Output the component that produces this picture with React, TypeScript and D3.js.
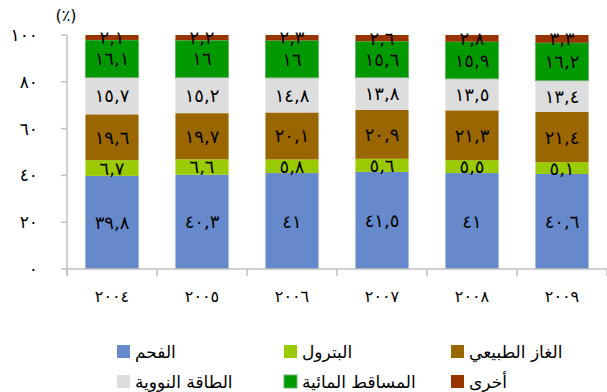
import React from "react";
import * as d3 from "d3";

// Years on the x axis (Arabic-Indic digits)
const years = ["٢٠٠٤", "٢٠٠٥", "٢٠٠٦", "٢٠٠٧", "٢٠٠٨", "٢٠٠٩"];

// Share of each source per year, in percent
const coal = [39.8, 40.3, 41, 41.5, 41, 40.6];
const oil = [6.7, 6.6, 5.8, 5.6, 5.5, 5.1];
const gas = [19.6, 19.7, 20.1, 20.9, 21.3, 21.4];
const nuclear = [15.7, 15.2, 14.8, 13.8, 13.5, 13.4];
const hydro = [16.1, 16, 16, 15.6, 15.9, 16.2];
const other = [2.1, 2.2, 2.3, 2.6, 2.8, 3.3];

const seriesNames = ["الفحم", "البترول", "الغاز الطبيعي", "الطاقة النووية", "المساقط المائية", "أخرى"];
const seriesColors = ["#6589CB", "#9ACA00", "#996600", "#DDDDDD", "#009A00", "#993300"];
const seriesValues = [coal, oil, gas, nuclear, hydro, other];

const yTicks = [0, 20, 40, 60, 80, 100];

const W = 607;
const H = 392;
const FONT = "'DejaVu Sans', sans-serif";

const toArabicDigits = (s: string) =>
  s.replace(/[0-9]/g, (d) => "٠١٢٣٤٥٦٧٨٩"[+d]).replace(".", ",");

export default function App() {
  const x = d3.scaleBand<string>().domain(years).range([67, 607]).paddingInner(0.41).paddingOuter(0.205);
  const y = d3.scaleLinear().domain([0, 100]).range([269, 35]);

  const rows = years.map((yr, i) => {
    const obj: Record<string, number | string> = { year: yr };
    seriesNames.forEach((n, s) => (obj[n] = seriesValues[s][i]));
    return obj;
  });
  const stacked = d3.stack<Record<string, number | string>>().keys(seriesNames)(rows as any);

  const step = x.step();
  const boundaries = d3.range(years.length + 1).map((k) => 67 + k * step);

  const legendCols = [117, 284, 451];
  const legendRows = [352, 382];

  return (
    <div style={{ position: "fixed", left: 0, top: 0 }}>
      <svg width={W} height={H} style={{ display: "block", background: "#fff" }}>
        {/* unit label */}
        <text x={66} y={15} textAnchor="middle" dominantBaseline="central" fontFamily={FONT} fontSize={16} fill="#000">
          (٪)
        </text>

        {/* y axis */}
        <line x1={67} x2={67} y1={y(100)} y2={y(0) + 7} stroke="#BFBFBF" strokeWidth={1.5} />
        {yTicks.map((t) => (
          <g key={t}>
            <line x1={61} x2={67} y1={y(t)} y2={y(t)} stroke="#BFBFBF" strokeWidth={1.5} />
            <text
              x={38}
              y={y(t)}
              textAnchor="end"
              dominantBaseline="central"
              fontFamily={FONT}
              fontSize={17}
              letterSpacing={3}
              fill="#000"
            >
              {toArabicDigits(String(t))}
            </text>
          </g>
        ))}

        {/* bars */}
        {stacked.map((layer, s) => (
          <g key={s}>
            {layer.map((d, i) => (
              <rect
                key={i}
                x={x(years[i])}
                width={x.bandwidth()}
                y={y(d[1])}
                height={y(d[0]) - y(d[1])}
                fill={seriesColors[s]}
                stroke={s === 4 ? "#6DB36D" : "none"}
                strokeWidth={s === 4 ? 1 : 0}
              />
            ))}
          </g>
        ))}

        {/* x axis */}
        <line x1={67} x2={607} y1={y(0)} y2={y(0)} stroke="#BFBFBF" strokeWidth={1.5} />
        {boundaries.map((bx, k) => (
          <line key={k} x1={bx} x2={bx} y1={y(0)} y2={y(0) + 7} stroke="#BFBFBF" strokeWidth={1.5} />
        ))}
        {years.map((yr) => (
          <text
            key={yr}
            x={(x(yr) as number) + x.bandwidth() / 2}
            y={296}
            textAnchor="middle"
            dominantBaseline="central"
            fontFamily={FONT}
            fontSize={16}
            letterSpacing={4}
            fill="#000"
          >
            {yr}
          </text>
        ))}

        {/* value labels */}
        {stacked.map((layer, s) => (
          <g key={"l" + s}>
            {layer.map((d, i) => (
              <text
                key={i}
                x={(x(years[i]) as number) + x.bandwidth() / 2}
                y={(y(d[0]) + y(d[1])) / 2}
                textAnchor="middle"
                dominantBaseline="central"
                fontFamily={FONT}
                fontSize={18}
                letterSpacing={2}
                fill="#000"
              >
                {toArabicDigits(String(seriesValues[s][i]))}
              </text>
            ))}
          </g>
        ))}

        {/* legend */}
        {seriesNames.map((n, s) => {
          const cx = legendCols[s % 3];
          const cy = legendRows[Math.floor(s / 3)];
          return (
            <g key={n}>
              <rect
                x={cx}
                y={cy - 7}
                width={13}
                height={13}
                fill={seriesColors[s]}
                stroke={s === 4 ? "#6DB36D" : "none"}
              />
              <text x={cx + 18} y={cy} dominantBaseline="central" fontFamily={FONT} fontSize={17} fill="#000">
                {n}
              </text>
            </g>
          );
        })}
      </svg>
    </div>
  );
}
